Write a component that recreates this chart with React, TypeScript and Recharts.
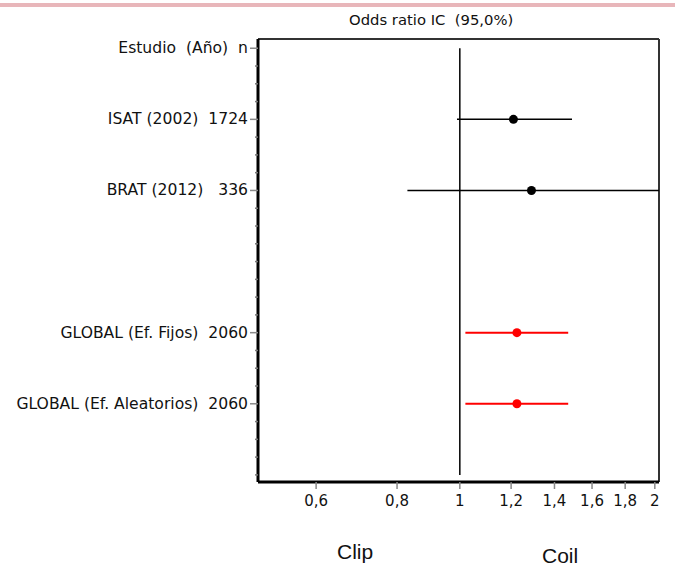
import React from 'react';
import { ComposedChart, Scatter, XAxis, YAxis, ErrorBar, ReferenceLine } from 'recharts';

// rows top to bottom (row 3 is an empty spacer)
const rowLabels = ['Estudio  (Año)  n', 'ISAT (2002)  1724', 'BRAT (2012)   336', '', 'GLOBAL (Ef. Fijos)  2060', 'GLOBAL (Ef. Aleatorios)  2060'];

const studyRows = [1, 2];
const studyOR = [1.21, 1.29];
const studyLow = [0.99, 0.83];
const studyHigh = [1.49, 2.03];

const globalRows = [4, 5];
const globalOR = [1.225, 1.225];
const globalLow = [1.02, 1.02];
const globalHigh = [1.47, 1.47];

const xTicks = [0.6, 0.8, 1, 1.2, 1.4, 1.6, 1.8, 2];
const yTicks = Array.from({ length: 25 }, (_, i) => i * 0.25);
const xDomain = [0.488, 2.03];
const yDomain = [-0.13, 6.1];

const build = (rows: number[], or: number[], lo: number[], hi: number[]) =>
  rows.map((row, i) => ({ row, or: or[i], err: [or[i] - lo[i], hi[i] - or[i]] }));

const studies = build(studyRows, studyOR, studyLow, studyHigh);
const globals = build(globalRows, globalOR, globalLow, globalHigh);

const FONT = '"DejaVu Sans", Verdana, sans-serif';

const RowTick = (props: any) => {
  const { x, y, payload } = props;
  const v = payload.value;
  const isRow = Number.isInteger(v) && v < rowLabels.length && rowLabels[v] !== '';
  if (!isRow) {
    return <line x1={x - 3} x2={x} y1={y} y2={y} stroke="#777" strokeWidth={1.5} />;
  }
  return (
    <g>
      <line x1={x - 8} x2={x} y1={y} y2={y} stroke="#888" strokeWidth={1.5} />
      <text x={x - 10} y={y} dy={5} textAnchor="end" fontSize={15.6} fontFamily={FONT} fill="#111" style={{ whiteSpace: 'pre' }}>
        {rowLabels[v]}
      </text>
    </g>
  );
};

const dot = (color: string) => (p: any) => <circle cx={p.cx} cy={p.cy} r={4.5} fill={color} />;

export default function App() {
  return (
    <div style={{ position: 'absolute', left: 0, top: 0, width: 675, height: 572, background: '#fff' }}>
      <div style={{ position: 'absolute', left: 0, top: 3, width: 675, height: 4, background: '#e8b6ba' }} />
      <div style={{ position: 'absolute', left: 349, top: 11, fontSize: 14.8, fontFamily: FONT, color: '#111', whiteSpace: 'pre' }}>Odds ratio IC  (95,0%)</div>
      <ComposedChart width={675} height={572} margin={{ top: 39, right: 16, bottom: 60, left: 0 }}>
        <XAxis
          type="number"
          dataKey="or"
          scale="log"
          domain={xDomain}
          allowDataOverflow
          ticks={xTicks}
          tickFormatter={(v: number) => String(v).replace('.', ',')}
          height={30}
          tickSize={7}
          tickMargin={6}
          tick={{ fontSize: 15, fill: '#111', fontFamily: FONT }}
          tickLine={{ stroke: '#888', strokeWidth: 1.5 }}
          axisLine={{ stroke: '#000', strokeWidth: 3 }}
        />
        <YAxis
          type="number"
          dataKey="row"
          domain={yDomain}
          reversed
          allowDataOverflow
          ticks={yTicks}
          interval={0}
          width={258}
          tickSize={0}
          tickMargin={0}
          tick={<RowTick />}
          tickLine={false}
          axisLine={{ stroke: '#000', strokeWidth: 3 }}
        />
        {/* top and right frame */}
        <ReferenceLine y={yDomain[0]} stroke="#333" strokeWidth={2} />
        <ReferenceLine x={xDomain[1]} stroke="#333" strokeWidth={2} />
        <ReferenceLine segment={[{ x: 1, y: 0 }, { x: 1, y: 6 }]} stroke="#000" strokeWidth={1.5} />
        <Scatter data={studies} shape={dot('#000')} isAnimationActive={false}>
          <ErrorBar dataKey="err" direction="x" width={0} stroke="#000" strokeWidth={1.5} />
        </Scatter>
        <Scatter data={globals} shape={dot('#ff0000')} isAnimationActive={false}>
          <ErrorBar dataKey="err" direction="x" width={0} stroke="#ff0000" strokeWidth={2} />
        </Scatter>
      </ComposedChart>
      <div style={{ position: 'absolute', left: 337, top: 540, fontSize: 21, fontFamily: 'Arial, "Liberation Sans", sans-serif', color: '#111' }}>Clip</div>
      <div style={{ position: 'absolute', left: 542, top: 544, fontSize: 21, fontFamily: 'Arial, "Liberation Sans", sans-serif', color: '#111' }}>Coil</div>
    </div>
  );
}
